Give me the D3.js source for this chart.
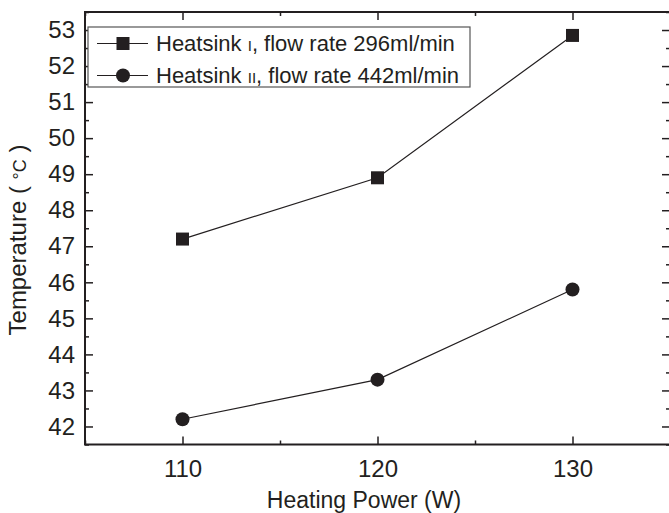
<!DOCTYPE html>
<html>
<head>
<meta charset="utf-8">
<script src="https://cdn.jsdelivr.net/npm/d3@7"></script>
<style>
	body { margin: 0; background: #fff; }
	svg { display: block; font-family: "Liberation Sans", Arial, sans-serif; }
</style>
</head>
<body>
<svg id="chart"></svg>
<script>
// data
const power = [110, 120, 130];
const heatsink1 = [47.2, 48.9, 52.85];
const heatsink2 = [42.2, 43.3, 45.8];
const xTicks = [110, 120, 130];
const xMinor = [105, 115, 125, 135];
const yTicks = [42, 43, 44, 45, 46, 47, 48, 49, 50, 51, 52, 53];
const yMinor = [41.5, 42.5, 43.5, 44.5, 45.5, 46.5, 47.5, 48.5, 49.5, 50.5, 51.5, 52.5, 53.5];
const legendLabels = [['Heatsink ', 'I', ', flow rate 296ml/min'], ['Heatsink ', 'II', ', flow rate 442ml/min']];

const W = 669, H = 513;
const ink = '#231f20';
const m = { left: 85, right: 670, top: 12, bottom: 444.5 };

const svg = d3.select('#chart').attr('width', W).attr('height', H);

const x = d3.scaleLinear().domain([105, 135]).range([m.left, m.right]);
const y = d3.scaleLinear().domain([41.5, 53.5]).range([m.bottom, m.top]);

// frame
svg.append('rect')
	.attr('x', m.left).attr('y', m.top)
	.attr('width', m.right - m.left).attr('height', m.bottom - m.top)
	.attr('fill', 'none').attr('stroke', ink).attr('stroke-width', 2);

function axisStyle(g) {
	g.select('.domain').remove();
	g.selectAll('line').attr('stroke', ink).attr('stroke-width', 1.5);
	g.selectAll('text').attr('fill', ink).style('font-size', '24px');
}

// bottom axis, ticks inward
svg.append('g').attr('transform', `translate(0,${m.bottom})`)
	.call(d3.axisBottom(x).tickValues(xTicks).tickSize(-8).tickPadding(15).tickFormat(d3.format('d')))
	.call(axisStyle);
svg.append('g').attr('transform', `translate(0,${m.bottom})`)
	.call(d3.axisBottom(x).tickValues(xMinor).tickSize(-4).tickFormat(''))
	.call(axisStyle);
// top axis
svg.append('g').attr('transform', `translate(0,${m.top})`)
	.call(d3.axisTop(x).tickValues(xTicks).tickSize(-8).tickFormat(''))
	.call(axisStyle);
svg.append('g').attr('transform', `translate(0,${m.top})`)
	.call(d3.axisTop(x).tickValues(xMinor).tickSize(-4).tickFormat(''))
	.call(axisStyle);
// left axis
svg.append('g').attr('transform', `translate(${m.left},0)`)
	.call(d3.axisLeft(y).tickValues(yTicks).tickSize(-8).tickPadding(10).tickFormat(d3.format('d')))
	.call(axisStyle);
svg.append('g').attr('transform', `translate(${m.left},0)`)
	.call(d3.axisLeft(y).tickValues(yMinor).tickSize(-4).tickFormat(''))
	.call(axisStyle);
// right axis
svg.append('g').attr('transform', `translate(${m.right},0)`)
	.call(d3.axisRight(y).tickValues(yTicks).tickSize(-8).tickFormat(''))
	.call(axisStyle);
svg.append('g').attr('transform', `translate(${m.right},0)`)
	.call(d3.axisRight(y).tickValues(yMinor).tickSize(-4).tickFormat(''))
	.call(axisStyle);

// axis titles
svg.append('text')
	.attr('x', 364).attr('y', 508)
	.attr('text-anchor', 'middle').attr('fill', ink)
	.style('font-size', '23px')
	.text('Heating Power (W)');

const yTitle = svg.append('text')
	.attr('transform', 'translate(26,240) rotate(-90)')
	.attr('text-anchor', 'middle').attr('fill', ink)
	.style('font-size', '24px');
yTitle.append('tspan').text('Temperature ( ');
yTitle.append('tspan').style('font-size', '18px').text('°C');
yTitle.append('tspan').text(' )');

// series
const series = [heatsink1, heatsink2];
const line = d3.line().x((d, i) => x(power[i])).y(d => y(d));

series.forEach((vals, s) => {
	svg.append('path')
		.datum(vals)
		.attr('d', line)
		.attr('fill', 'none').attr('stroke', ink).attr('stroke-width', 1.2);

	const pts = svg.append('g').selectAll('.pt').data(vals).join(s === 0 ? 'rect' : 'circle');
	if (s === 0) {
		pts.attr('x', (d, i) => x(power[i]) - 6.5).attr('y', d => y(d) - 6.5)
			.attr('width', 13).attr('height', 13).attr('fill', ink);
	} else {
		pts.attr('cx', (d, i) => x(power[i])).attr('cy', d => y(d))
			.attr('r', 7).attr('fill', ink);
	}
});

// legend
const legend = svg.append('g');
legend.append('rect')
	.attr('x', 88).attr('y', 27).attr('width', 382).attr('height', 60)
	.attr('fill', '#fff').attr('stroke', '#555').attr('stroke-width', 1.2);

legendLabels.forEach((parts, i) => {
	const ly = 43.5 + i * 32;
	legend.append('line')
		.attr('x1', 97).attr('x2', 148).attr('y1', ly).attr('y2', ly)
		.attr('stroke', ink).attr('stroke-width', 1.2);
	if (i === 0) {
		legend.append('rect').attr('x', 123 - 6.5).attr('y', ly - 6.5)
			.attr('width', 13).attr('height', 13).attr('fill', ink);
	} else {
		legend.append('circle').attr('cx', 123).attr('cy', ly).attr('r', 7).attr('fill', ink);
	}
	const t = legend.append('text')
		.attr('x', 156).attr('y', ly + 7.5)
		.attr('fill', ink).style('font-size', '22px');
	t.append('tspan').text(parts[0]);
	t.append('tspan').style('font-size', '15px').text(parts[1]);
	t.append('tspan').text(parts[2]);
});
</script>
</body>
</html>
